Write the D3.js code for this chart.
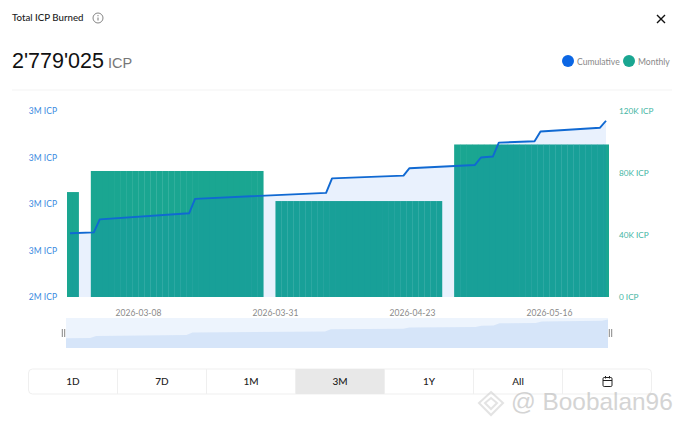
<!DOCTYPE html>
<html>
<head>
<meta charset="utf-8">
<script src="https://cdn.jsdelivr.net/npm/d3@7"></script>
<style>
  html, body { margin: 0; padding: 0; background: #fff; }
  svg { display: block; }
  text { font-family: Lato, sans-serif; }
</style>
</head>
<body>
<div id="chart"></div>
<script>
// data
const firstDay = "2026-02-25";
const lastDay = "2026-05-26";

const monthFirstDays = ["2026-02-25", "2026-03-01", "2026-04-01", "2026-05-01"];
const monthLastDays = ["2026-02-26", "2026-03-29", "2026-04-28", "2026-05-26"];
const monthValues = [67700, 81300, 61900, 98400];

const cumulativeDates = [
  "2026-02-25", "2026-03-01", "2026-03-02", "2026-03-17", "2026-03-18", "2026-04-09",
  "2026-04-10", "2026-04-22", "2026-04-23", "2026-05-04", "2026-05-05", "2026-05-07",
  "2026-05-08", "2026-05-14", "2026-05-15", "2026-05-25", "2026-05-26",
];
const cumulativeValues = [
  2537000, 2539000, 2567000, 2580000, 2611000, 2624000,
  2655000, 2661000, 2677000, 2684000, 2700000, 2702000,
  2732000, 2735000, 2756000, 2764000, 2779025,
];

const leftTicks = [2400000, 2500000, 2600000, 2700000, 2800000];
const rightTicks = [0, 40000, 80000, 120000];
const dateTicks = ["2026-03-08", "2026-03-31", "2026-04-23", "2026-05-16"];
const rangeButtons = ["1D", "7D", "1M", "3M", "1Y", "All", ""];
const activeButton = "3M";

//size
const width = 680;
const height = 427;
const margin = { top: 111, bottom: 130, left: 67, right: 71 };
const innerWidth = width - margin.left - margin.right;
const innerHeight = height - margin.top - margin.bottom;

const blue = "#0b66e4";
const green = "#1aa691";
const parseDay = d3.utcParse("%Y-%m-%d");
const fmtDay = d3.utcFormat("%Y-%m-%d");

const days = d3.utcDay.range(parseDay(firstDay), d3.utcDay.offset(parseDay(lastDay), 1)).map(fmtDay);

//scale
const xScale = d3.scaleBand().domain(days).range([0, innerWidth]);
const xMini = d3.scalePoint().domain(days).range([0, 542]);
const yLeft = d3.scaleLinear().domain([2400000, 2800000]).range([innerHeight, 0]);
const yRight = d3.scaleLinear().domain([0, 120000]).range([innerHeight, 0]);
const yMini = d3.scaleLinear().domain([2410000, 2800000]).range([30, 0]);

const svg = d3.select("#chart").append("svg").attr("width", width).attr("height", height);

// header
svg.append("text").attr("x", 12).attr("y", 21).attr("font-size", 9.7).attr("font-weight", 500)
  .attr("fill", "#222").text("Total ICP Burned");
const info = svg.append("g").attr("transform", "translate(98,18)");
info.append("circle").attr("r", 5).attr("fill", "none").attr("stroke", "#777").attr("stroke-width", 0.9);
info.append("line").attr("y1", -0.5).attr("y2", 2.5).attr("stroke", "#777");
info.append("circle").attr("cy", -2.3).attr("r", 0.6).attr("fill", "#777");
svg.append("path").attr("d", "M657 15L665 23M665 15L657 23").attr("stroke", "#111").attr("stroke-width", 1.4).attr("fill", "none");

svg.append("text").attr("x", 12).attr("y", 68).attr("font-size", 21.5)
  .style("font-family", "Liberation Sans").attr("fill", "#111").text("2'779'025");
svg.append("text").attr("x", 108).attr("y", 68).attr("font-size", 14.5)
  .style("font-family", "Liberation Sans").attr("fill", "#777").text("ICP");

// legend
const legend = svg.append("g");
legend.append("circle").attr("cx", 568).attr("cy", 61).attr("r", 6).attr("fill", blue);
legend.append("text").attr("x", 577).attr("y", 64.5).attr("font-size", 8.6).attr("fill", "#888").text("Cumulative");
legend.append("circle").attr("cx", 629).attr("cy", 61).attr("r", 6).attr("fill", green);
legend.append("text").attr("x", 638).attr("y", 64.5).attr("font-size", 8.6).attr("fill", "#888").text("Monthly");

svg.append("line").attr("x1", 12).attr("x2", 672).attr("y1", 90).attr("y2", 90).attr("stroke", "#f3f3f3");

const plot = svg.append("g").attr("transform", `translate(${margin.left},${margin.top})`);

// one strip per day, the month's total as its height
monthValues.forEach((value, i) => {
  const from = parseDay(monthFirstDays[i]);
  const to = d3.utcDay.offset(parseDay(monthLastDays[i]), 1);
  const monthDays = d3.utcDay.range(from, to).map(fmtDay);
  plot.append("g")
    .selectAll("rect")
    .data(monthDays)
    .join("rect")
    .attr("x", (d) => xScale(d))
    .attr("y", yRight(value))
    // small overlap so the seams between days stay faint
    .attr("width", (d, j) => xScale.bandwidth() + (j < monthDays.length - 1 ? 0.3 : 0))
    .attr("height", innerHeight - yRight(value))
    .attr("fill", green);
});

// cumulative
const cumulative = cumulativeDates.map((d, i) => ({ date: d, value: cumulativeValues[i] }));
const cx = (d) => xScale(d.date) + xScale.bandwidth() / 2;

plot.append("path")
  .datum(cumulative)
  .attr("fill", blue)
  .attr("fill-opacity", 0.09)
  .attr("d", d3.area().x(cx).y0(innerHeight).y1((d) => yLeft(d.value)));

plot.append("path")
  .datum(cumulative)
  .attr("fill", "none")
  .attr("stroke", "#1069d2")
  .attr("stroke-width", 1.9)
  .attr("stroke-linejoin", "round")
  .attr("d", d3.line().x(cx).y((d) => yLeft(d.value)));

// axes, labels only
const leftAxis = svg.append("g")
  .attr("transform", `translate(${margin.left},${margin.top})`)
  .call(d3.axisLeft(yLeft).tickValues(leftTicks).tickSize(0).tickPadding(10).tickFormat((d) => d3.format(".1s")(d) + " ICP"));
leftAxis.select(".domain").remove();
leftAxis.selectAll("text").attr("font-size", 8.5).attr("fill", "#3a8ae0").attr("dy", "0.32em").style("font-family", "Lato");

const rightAxis = svg.append("g")
  .attr("transform", `translate(${width - margin.right},${margin.top})`)
  .call(d3.axisRight(yRight).tickValues(rightTicks).tickSize(0).tickPadding(10).tickFormat((d) => (d === 0 ? "0" : d / 1000 + "K") + " ICP"));
rightAxis.select(".domain").remove();
rightAxis.selectAll("text").attr("font-size", 8.2).attr("fill", "#3fb5a3").attr("dy", "0.32em").style("font-family", "Lato");

const dateAxis = svg.append("g")
  .attr("transform", `translate(${margin.left},${margin.top + innerHeight})`)
  .call(d3.axisBottom(xScale).tickValues(dateTicks).tickSize(0).tickPadding(13));
dateAxis.select(".domain").remove();
dateAxis.selectAll("text").attr("font-size", 8.5).attr("fill", "#8a8a8a").attr("dx", 3).style("font-family", "Lato");

// overview strip
const mini = svg.append("g").attr("transform", "translate(66,318)");
mini.append("rect").attr("width", 542).attr("height", 30).attr("fill", "#edf4fd");
mini.append("path")
  .datum(cumulative)
  .attr("fill", "#d6e5f9")
  .attr("d", d3.area().x((d) => xMini(d.date)).y0(30).y1((d) => yMini(d.value)));
[-2.5, 544.5].forEach((x) => {
  mini.append("path").attr("d", `M${x - 1.2} 11V19M${x + 1.2} 11V19`).attr("stroke", "#666").attr("stroke-width", 0.8);
});

// range buttons
const buttonScale = d3.scaleBand().domain(d3.range(rangeButtons.length)).range([28.5, 651.5]);
const buttons = svg.append("g");
buttons.append("rect").attr("x", 28.5).attr("y", 369).attr("width", 623).attr("height", 25).attr("rx", 4)
  .attr("fill", "#fff").attr("stroke", "#efefef");
rangeButtons.forEach((label, i) => {
  const x = buttonScale(i);
  if (label === activeButton) {
    buttons.append("rect").attr("x", x).attr("y", 369).attr("width", buttonScale.bandwidth()).attr("height", 25).attr("fill", "#e8e8e8");
  }
  if (i > 0) {
    buttons.append("line").attr("x1", x).attr("x2", x).attr("y1", 369).attr("y2", 394).attr("stroke", "#efefef");
  }
  if (label) {
    buttons.append("text").attr("x", x + buttonScale.bandwidth() / 2).attr("y", 385)
      .attr("text-anchor", "middle").attr("font-size", 10).attr("font-weight", 500).attr("fill", "#222").text(label);
  }
});
const cal = buttons.append("g").attr("transform", "translate(607.5,381.5)").attr("fill", "none").attr("stroke", "#222").attr("stroke-width", 1);
cal.append("rect").attr("x", -4.5).attr("y", -4).attr("width", 9).attr("height", 9).attr("rx", 1.2);
cal.append("path").attr("d", "M-4.5 -1H4.5M-2 -5.5V-3M2 -5.5V-3");

// watermark
const mark = svg.append("g").attr("opacity", 0.5);
mark.append("path").attr("d", "M491 392L503 403L491 415L479 403Z M491 398L497 403L491 409L485 403Z")
  .attr("fill", "none").attr("stroke", "#c9c9c9").attr("stroke-width", 2);
mark.append("text").attr("x", 511).attr("y", 410).attr("font-size", 24.4).attr("fill", "#aaa")
  .style("font-family", "Liberation Sans").text("@ Boobalan96");
</script>
</body>
</html>
